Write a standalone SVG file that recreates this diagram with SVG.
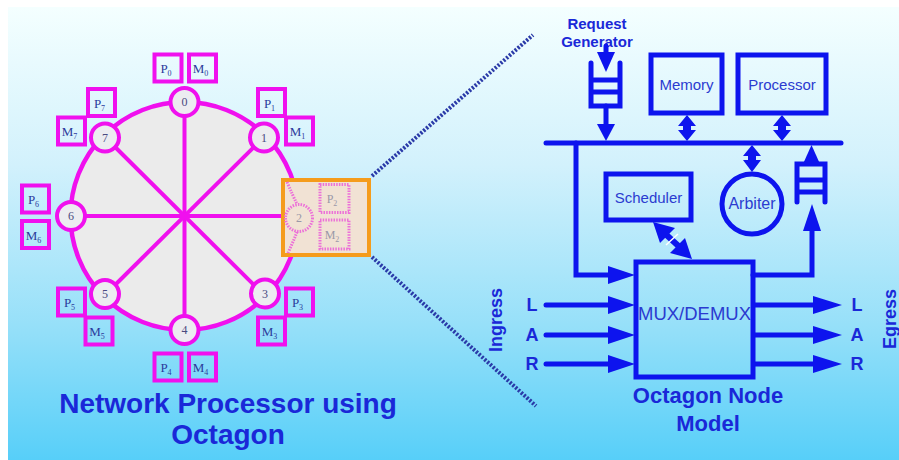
<svg xmlns="http://www.w3.org/2000/svg" width="899" height="460" viewBox="0 0 899 460">
  <defs>
    <linearGradient id="bg" x1="0" y1="0" x2="0" y2="1">
      <stop offset="0" stop-color="#f4ffff"/>
      <stop offset="0.35" stop-color="#d2f1fc"/>
      <stop offset="0.7" stop-color="#97e0f9"/>
      <stop offset="1" stop-color="#57cff9"/>
    </linearGradient>
    <style>
      .ring { fill: #ebebeb; stroke: #f010ee; stroke-width: 4.5; }
      .spoke { stroke: #f010ee; stroke-width: 4; fill: none; }
      .pm { fill: none; stroke: #f010ee; stroke-width: 4; }
      .node { fill: #ececf0; stroke: #f010ee; stroke-width: 4; }
      .pmt { font-family: "Liberation Serif", serif; font-size: 13px; fill: #2c3a9c; text-anchor: middle; }
      .nt { font-family: "Liberation Serif", serif; font-size: 12px; fill: #4a4a80; text-anchor: middle; }
      .faded { fill: none; stroke: #ec70d8; stroke-width: 3; stroke-dasharray: 1.5 1.2; }
      .fadedt { font-family: "Liberation Serif", serif; font-size: 12px; fill: #9a98a8; text-anchor: middle; }
      .blk { fill: none; stroke: #0d14ee; stroke-width: 5; }
      .ln { fill: none; stroke: #0d14ee; stroke-width: 5; stroke-linecap: round; }
      .hd { fill: #0d14ee; }
      .box { font-family: "Liberation Sans", Arial, sans-serif; fill: #2b3bd0; text-anchor: middle; }
      .lbl { font-family: "Liberation Sans", Arial, sans-serif; font-weight: bold; fill: #1a28d8; text-anchor: middle; }
      .dots { fill: none; stroke: #2a3aa8; stroke-width: 4; stroke-dasharray: 2.2 1.6; }
    </style>
  </defs>

  <!-- backdrop -->
  <rect x="0" y="0" width="899" height="460" fill="#ffffff"/>
  <rect x="8" y="7" width="891" height="453" fill="url(#bg)"/>

  <!-- octagon ring and spokes -->
  <g id="octagon">
    <circle class="ring" cx="184.5" cy="216" r="114"/>
    <line class="spoke" x1="184.5" y1="102" x2="184.5" y2="330"/>
    <line class="spoke" x1="105" y1="137" x2="264" y2="295"/>
    <line class="spoke" x1="264" y1="137" x2="105" y2="295"/>
    <line class="spoke" x1="71" y1="216" x2="283" y2="216"/>
  </g>

  <!-- ring nodes -->
  <g id="node0"><circle class="node" cx="184.5" cy="102" r="14"/><text class="nt" x="184.5" y="106">0</text></g>
  <g id="node1"><circle class="node" cx="264" cy="137.5" r="14"/><text class="nt" x="264" y="141.5">1</text></g>
  <g id="node3"><circle class="node" cx="265" cy="293.5" r="14"/><text class="nt" x="265" y="297.5">3</text></g>
  <g id="node4"><circle class="node" cx="184.5" cy="330" r="14"/><text class="nt" x="184.5" y="334">4</text></g>
  <g id="node5"><circle class="node" cx="105" cy="294" r="14"/><text class="nt" x="105" y="298">5</text></g>
  <g id="node6"><circle class="node" cx="71" cy="216" r="14"/><text class="nt" x="71" y="220">6</text></g>
  <g id="node7"><circle class="node" cx="105" cy="137.5" r="14"/><text class="nt" x="105" y="141.5">7</text></g>

  <!-- processor / memory tiles -->
  <g id="pm0">
    <rect class="pm" x="154.5" y="54.5" width="27" height="27"/><text class="pmt" x="166" y="73">P<tspan font-size="8" dy="3">0</tspan></text>
    <rect class="pm" x="189" y="54.5" width="27" height="27"/><text class="pmt" x="200.5" y="73">M<tspan font-size="8" dy="3">0</tspan></text>
  </g>
  <g id="pm1">
    <rect class="pm" x="258" y="89" width="27" height="27"/><text class="pmt" x="269.5" y="107.5">P<tspan font-size="8" dy="3">1</tspan></text>
    <rect class="pm" x="286" y="117.5" width="27" height="27"/><text class="pmt" x="297.5" y="136">M<tspan font-size="8" dy="3">1</tspan></text>
  </g>
  <g id="pm3">
    <rect class="pm" x="286" y="288.5" width="27" height="27"/><text class="pmt" x="297.5" y="307">P<tspan font-size="8" dy="3">3</tspan></text>
    <rect class="pm" x="258" y="317.5" width="27" height="27"/><text class="pmt" x="269.5" y="336">M<tspan font-size="8" dy="3">3</tspan></text>
  </g>
  <g id="pm4">
    <rect class="pm" x="154.5" y="353.5" width="27" height="27"/><text class="pmt" x="166" y="372">P<tspan font-size="8" dy="3">4</tspan></text>
    <rect class="pm" x="189" y="353.5" width="27" height="27"/><text class="pmt" x="200.5" y="372">M<tspan font-size="8" dy="3">4</tspan></text>
  </g>
  <g id="pm5">
    <rect class="pm" x="58" y="288.5" width="27" height="27"/><text class="pmt" x="69.5" y="307">P<tspan font-size="8" dy="3">5</tspan></text>
    <rect class="pm" x="85.5" y="317.5" width="27" height="27"/><text class="pmt" x="97" y="336">M<tspan font-size="8" dy="3">5</tspan></text>
  </g>
  <g id="pm6">
    <rect class="pm" x="22" y="185.5" width="27" height="27"/><text class="pmt" x="33.5" y="204">P<tspan font-size="8" dy="3">6</tspan></text>
    <rect class="pm" x="22" y="221" width="27" height="27"/><text class="pmt" x="33.5" y="239.5">M<tspan font-size="8" dy="3">6</tspan></text>
  </g>
  <g id="pm7">
    <rect class="pm" x="88" y="89" width="27" height="27"/><text class="pmt" x="99.5" y="107.5">P<tspan font-size="8" dy="3">7</tspan></text>
    <rect class="pm" x="58" y="117.5" width="27" height="27"/><text class="pmt" x="69.5" y="136">M<tspan font-size="8" dy="3">7</tspan></text>
  </g>

  <!-- highlighted node 2 -->
  <g id="node2">
    <rect x="283" y="180" width="86" height="75" fill="#f1e2d4" stroke="#f59c1c" stroke-width="4"/>
    <path class="faded" d="M287,182 Q293,196 297,204"/>
    <path class="faded" d="M297,232 Q293,242 288,253"/>
    <circle class="faded" cx="299" cy="218" r="13.5"/>
    <text class="fadedt" x="299" y="222">2</text>
    <rect class="faded" x="320" y="184.5" width="29" height="28"/>
    <text class="fadedt" x="332" y="203">P<tspan font-size="8" dy="3">2</tspan></text>
    <rect class="faded" x="320" y="220" width="29" height="29"/>
    <text class="fadedt" x="332" y="239">M<tspan font-size="8" dy="3">2</tspan></text>
  </g>

  <!-- zoom guide lines -->
  <g id="guides">
    <line class="dots" x1="372" y1="176" x2="533" y2="35"/>
    <line class="dots" x1="372" y1="257" x2="536" y2="406"/>
  </g>

  <text class="lbl" x="228" y="413" font-size="28">Network Processor using</text>
  <text class="lbl" x="228" y="444" font-size="28">Octagon</text>

  <!-- node model blocks -->
  <g id="request-generator">
    <text class="lbl" x="597" y="29" font-size="15">Request</text>
    <text class="lbl" x="597" y="47" font-size="15">Generator</text>
    <path class="ln" d="M591,63 V106 H620 V63 M591,80 H620 M591,92 H620"/>
  </g>
  <g id="memory">
    <rect class="blk" x="651" y="55" width="71" height="58"/>
    <text class="box" x="686.5" y="90" font-size="15">Memory</text>
  </g>
  <g id="processor">
    <rect class="blk" x="738" y="55" width="88" height="58"/>
    <text class="box" x="782" y="90" font-size="15">Processor</text>
  </g>
  <g id="scheduler">
    <rect class="blk" x="606" y="174" width="85" height="46"/>
    <text class="box" x="648.5" y="203" font-size="15">Scheduler</text>
  </g>
  <g id="arbiter">
    <circle class="blk" cx="752" cy="204" r="30"/>
    <text class="box" x="752" y="209" font-size="16">Arbiter</text>
  </g>
  <g id="egress-queue">
    <path class="ln" d="M797,202 V164 H825 V202 M797,180 H825 M797,192 H825"/>
  </g>
  <g id="mux-demux">
    <rect class="blk" x="636" y="262" width="117" height="115"/>
    <text class="box" x="694.5" y="320" font-size="18.5">MUX/DEMUX</text>
  </g>

  <!-- connectors -->
  <g id="connectors">
    <!-- bus -->
    <line class="ln" x1="546" y1="143" x2="841" y2="143"/>
    <!-- request generator in and out -->
    <line class="ln" x1="606" y1="46" x2="606" y2="55"/>
    <polygon class="hd" points="597,52 615,52 606,72"/>
    <line class="ln" x1="606" y1="106" x2="606" y2="127"/>
    <polygon class="hd" points="597,124 615,124 606,141"/>
    <!-- memory, processor and arbiter links to bus -->
    <path class="hd" d="M687,115 L696,126 L691,126 L691,130 L696,130 L687,141 L678,130 L683,130 L683,126 L678,126 Z"/>
    <path class="hd" d="M782,115 L791,126 L786,126 L786,130 L791,130 L782,141 L773,130 L778,130 L778,126 L773,126 Z"/>
    <path class="hd" d="M752,145 L761,156 L756,156 L756,160 L761,160 L752,172 L743,160 L748,160 L748,156 L743,156 Z"/>
    <!-- egress queue to bus -->
    <polygon class="hd" points="803,164 820,164 811.5,145"/>
    <!-- bus down into mux -->
    <path class="ln" d="M576,143 V275 H612" stroke-linecap="butt"/>
    <polygon class="hd" points="608,266 608,284 635,275"/>
    <!-- mux out to egress queue -->
    <path class="ln" d="M753,275 H812 V228" stroke-linejoin="miter"/>
    <polygon class="hd" points="803,231 821,231 812,204"/>
    <!-- scheduler to mux -->
    <line x1="660" y1="229" x2="685" y2="252" stroke="#0d14ee" stroke-width="6"/>
    <polygon class="hd" points="653,222 675,228 660,243"/>
    <polygon class="hd" points="692,259 670,253 685,238"/>
    <line x1="666" y1="245" x2="678" y2="234" stroke="#ffffff" stroke-width="1.5"/>
    <!-- ingress -->
    <line class="ln" x1="546" y1="305" x2="612" y2="305"/>
    <polygon class="hd" points="608,296 608,314 635,305"/>
    <line class="ln" x1="546" y1="335" x2="612" y2="335"/>
    <polygon class="hd" points="608,326 608,344 635,335"/>
    <line class="ln" x1="546" y1="364" x2="612" y2="364"/>
    <polygon class="hd" points="608,355 608,373 635,364"/>
    <!-- egress -->
    <line x1="753" y1="305" x2="816" y2="305" stroke="#0d14ee" stroke-width="5"/>
    <polygon class="hd" points="813,296 813,314 842,305"/>
    <line x1="753" y1="335" x2="816" y2="335" stroke="#0d14ee" stroke-width="5"/>
    <polygon class="hd" points="813,326 813,344 842,335"/>
    <line x1="753" y1="364" x2="816" y2="364" stroke="#0d14ee" stroke-width="5"/>
    <polygon class="hd" points="813,355 813,373 842,364"/>
  </g>

  <!-- port labels -->
  <text class="lbl" x="532" y="311" font-size="18">L</text>
  <text class="lbl" x="532" y="341" font-size="18">A</text>
  <text class="lbl" x="532" y="370" font-size="18">R</text>
  <text class="lbl" x="857" y="311" font-size="18">L</text>
  <text class="lbl" x="857" y="341" font-size="18">A</text>
  <text class="lbl" x="857" y="370" font-size="18">R</text>
  <text class="lbl" font-size="18" transform="translate(502,320) rotate(-90)">Ingress</text>
  <text class="lbl" font-size="18" transform="translate(896,319) rotate(-90)">Egress</text>
  <text class="lbl" x="708" y="403" font-size="22">Octagon Node</text>
  <text class="lbl" x="708" y="431" font-size="22">Model</text>
</svg>
